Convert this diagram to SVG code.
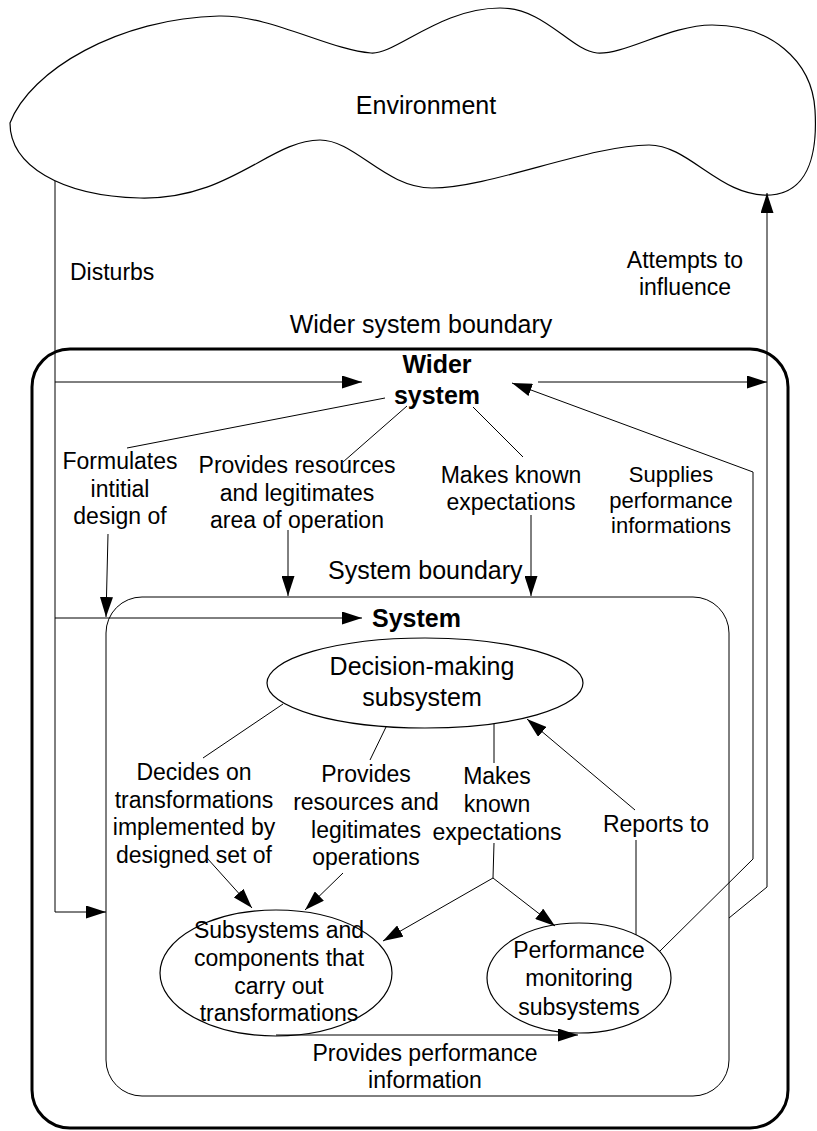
<svg xmlns="http://www.w3.org/2000/svg" width="817" height="1131" viewBox="0 0 817 1131">
  <defs>
    <style>
      .ln { fill: none; stroke: #000; stroke-width: 1; }
      .arr { marker-end: url(#ah); }
      .shape { fill: none; stroke: #000; stroke-width: 1.2; }
      text { font-family: "Liberation Sans", Arial, sans-serif; font-size: 23px; fill: #000; text-anchor: middle; }
      .big { font-size: 25px; }
      .bold { font-size: 25px; font-weight: bold; }
      .sm { font-size: 22px; }
      .start { text-anchor: start; }
    </style>
    <marker id="ah" markerWidth="20" markerHeight="13" refX="20" refY="6.5" orient="auto" markerUnits="userSpaceOnUse">
      <path d="M0,0 L20,6.5 L0,13 Z" fill="#000"/>
    </marker>
  </defs>
  <rect width="817" height="1131" fill="#fff"/>

  <!-- Environment cloud -->
  <g id="environment">
    <path class="shape" d="M10,123 C30,70 120,18 219,16 C270,15 330,50 371,53 C395,55 440,8 500,8 C545,8 570,50 597,53 C625,55 670,25 712,25 C770,25 812,60 815,110 C818,160 805,192 771,195 C720,198 690,145 649,145 C590,145 490,188 432,188 C385,188 355,140 320,140 C270,140 230,200 140,198 C60,196 10,165 10,123 Z"/>
    <text class="big" x="426" y="114">Environment</text>
  </g>

  <!-- Wider system boundary -->
  <g id="wider-boundary">
    <rect x="32" y="349" width="756" height="779" rx="38" fill="none" stroke="#000" stroke-width="3"/>
    <text class="big" x="421" y="333">Wider system boundary</text>
  </g>

  <g id="wider-system">
    <text class="bold" x="437" y="373">Wider</text>
    <text class="bold" x="437" y="404">system</text>
  </g>

  <!-- System boundary -->
  <g id="system-boundary">
    <rect x="106" y="597" width="623" height="499" rx="36" fill="none" stroke="#000" stroke-width="1"/>
    <text class="big start" x="328" y="579">System boundary</text>
  </g>

  <g id="system">
    <text class="bold start" x="372" y="627">System</text>
  </g>

  <!-- Subsystems -->
  <g id="decision-making">
    <ellipse class="shape" cx="425" cy="683" rx="158" ry="45"/>
    <text class="big" x="422" y="675">Decision-making</text>
    <text class="big" x="422" y="706">subsystem</text>
  </g>

  <g id="transformation-subsystems">
    <ellipse class="shape" cx="276" cy="973" rx="116" ry="63"/>
    <text x="279" y="938">Subsystems and</text>
    <text x="279" y="966">components that</text>
    <text x="279" y="994">carry out</text>
    <text x="279" y="1021">transformations</text>
  </g>

  <g id="performance-monitoring">
    <ellipse class="shape" cx="579" cy="978" rx="92" ry="55"/>
    <text x="579" y="958">Performance</text>
    <text x="579" y="986">monitoring</text>
    <text x="579" y="1015">subsystems</text>
  </g>

  <!-- Connectors -->
  <g id="connectors">
    <!-- Disturbs -->
    <path class="ln arr" d="M55,181 V912 H106"/>
    <path class="ln arr" d="M55,382 H362"/>
    <path class="ln arr" d="M55,618 H362"/>

    <!-- Attempts to influence -->
    <path class="ln arr" d="M729,918 L767,887 V193"/>
    <path class="ln arr" d="M538,382 H767"/>

    <!-- Supplies performance informations -->
    <path class="ln arr" d="M660,951 L753,859 V472 L512,383"/>

    <!-- Wider system to system -->
    <path class="ln" d="M127,448 L385,398"/>
    <path class="ln arr" d="M108,534 L106,617"/>
    <path class="ln" d="M343,462 L407,406"/>
    <path class="ln arr" d="M288,530 V596"/>
    <path class="ln" d="M473,407 L523,457"/>
    <path class="ln arr" d="M531,515 V596"/>

    <!-- Decision-making to other subsystems -->
    <path class="ln" d="M283,704 L203,758"/>
    <path class="ln arr" d="M207,858 L252,908"/>
    <path class="ln" d="M386,727 L370,760"/>
    <path class="ln arr" d="M343,873 L305,910"/>
    <path class="ln" d="M494,724 V763"/>
    <path class="ln" d="M494,843 L493,878"/>
    <path class="ln arr" d="M493,878 L383,941"/>
    <path class="ln arr" d="M493,878 L555,926"/>

    <!-- Reports to -->
    <path class="ln" d="M636,935 V840"/>
    <path class="ln arr" d="M635,810 L527,719"/>

    <!-- Provides performance information -->
    <path class="ln arr" d="M276,1035 H578"/>
  </g>

  <!-- Connector labels -->
  <g id="labels">
    <text class="start" x="70" y="280">Disturbs</text>
    <text x="685" y="268">Attempts to</text>
    <text x="685" y="295">influence</text>

    <text x="120" y="469">Formulates</text>
    <text x="120" y="497">intitial</text>
    <text x="120" y="524">design of</text>

    <text x="297" y="473">Provides resources</text>
    <text x="297" y="501">and legitimates</text>
    <text x="297" y="528">area of operation</text>

    <text x="511" y="483">Makes known</text>
    <text x="511" y="510">expectations</text>

    <text class="sm" x="671" y="482">Supplies</text>
    <text class="sm" x="671" y="508">performance</text>
    <text class="sm" x="671" y="533">informations</text>

    <text x="194" y="780">Decides on</text>
    <text x="194" y="808">transformations</text>
    <text x="194" y="835">implemented by</text>
    <text x="194" y="863">designed set of</text>

    <text x="366" y="782">Provides</text>
    <text x="366" y="810">resources and</text>
    <text x="366" y="838">legitimates</text>
    <text x="366" y="865">operations</text>

    <text x="497" y="784">Makes</text>
    <text x="497" y="812">known</text>
    <text x="497" y="840">expectations</text>

    <text x="656" y="832">Reports to</text>

    <text x="425" y="1061">Provides performance</text>
    <text x="425" y="1088">information</text>
  </g>
</svg>
